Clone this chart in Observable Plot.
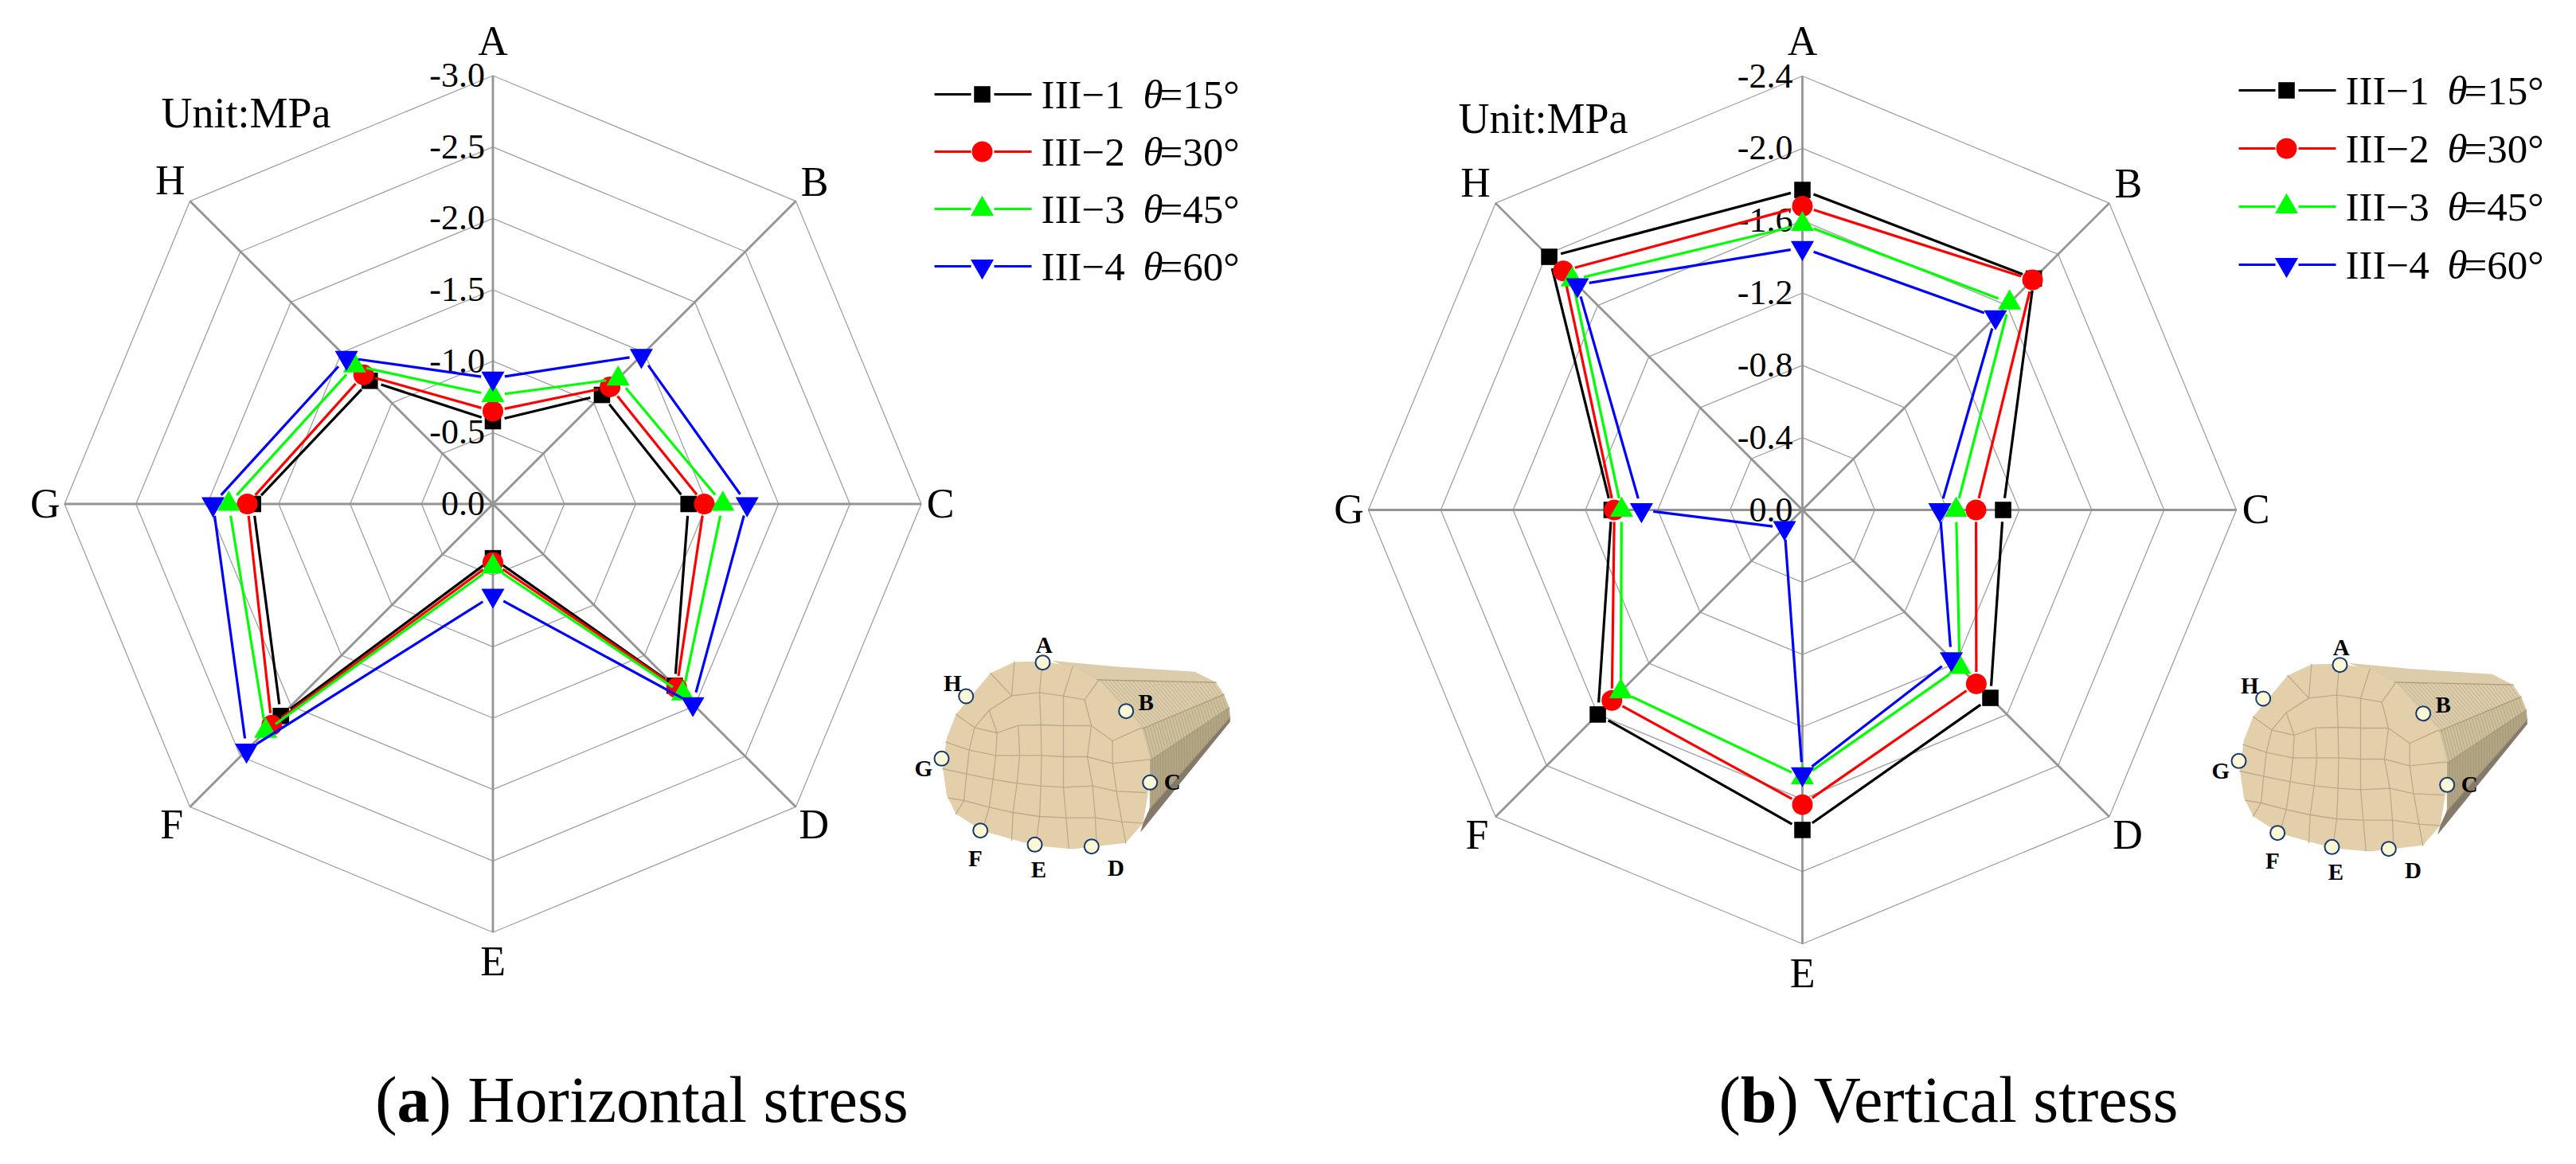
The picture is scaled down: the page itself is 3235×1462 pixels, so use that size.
<!DOCTYPE html>
<html><head><meta charset="utf-8">
<script src="https://cdn.jsdelivr.net/npm/d3@7"></script>
<script src="https://cdn.jsdelivr.net/npm/@observablehq/plot@0.6"></script>
<style>
html,body{margin:0;padding:0;background:#fff}
#fig{position:relative;width:3235px;height:1462px;overflow:hidden;font-family:"Liberation Serif",serif;color:#000}
#fig>*{position:absolute}
#fig svg{max-width:none;background:transparent;overflow:visible}
.cap{font-size:82px;line-height:1;white-space:nowrap;transform:translateX(-50%);top:1341px}
</style></head><body><div id="fig"></div>
<script>
// ---------- data ----------
const stations = ["A","B","C","D","E","F","G","H"];
const seriesNames = ["III\u22121","III\u22122","III\u22123","III\u22124"];
const thetaLabels = ["=15\u00b0","=30\u00b0","=45\u00b0","=60\u00b0"];
const colors = ["#000000","#ff0000","#00ff00","#0000ff"];

const horizontal15 = [0.58,1.08,1.37,1.80,0.38,2.10,1.68,1.22];
const horizontal30 = [0.65,1.16,1.48,1.82,0.41,2.19,1.72,1.28];
const horizontal45 = [0.76,1.24,1.61,1.88,0.44,2.25,1.85,1.37];
const horizontal60 = [0.88,1.47,1.78,1.98,0.64,2.44,1.96,1.45];

const vertical15 = [1.77,1.81,1.11,1.47,1.77,1.60,1.055,1.98];
const vertical30 = [1.68,1.80,0.96,1.36,1.63,1.49,1.04,1.87];
const vertical45 = [1.58,1.62,0.85,1.23,1.48,1.42,1.00,1.80];
const vertical60 = [1.45,1.51,0.76,1.165,1.46,0.14,0.89,1.76];

const horizontalTicks = [0,0.5,1,1.5,2,2.5,3];
const verticalTicks = [0,0.4,0.8,1.2,1.6,2,2.4];

// ---------- symbols ----------
const sq3 = Math.sqrt(3);
const triangleDown = {draw(c,size){const y=Math.sqrt(size/(sq3*3));c.moveTo(0,y*2);c.lineTo(-sq3*y,-y);c.lineTo(sq3*y,-y);c.closePath();}};
const symbols = ["square","circle","triangle",triangleDown];
const radii = [11.6,13,10.8,10.8];
const labelReach = [1.08,1.062,1.045,1.06,1.07,1.06,1.045,1.065];

const fig = document.getElementById("fig");
function place(node,left,top){node.style.left=left+"px";node.style.top=top+"px";fig.appendChild(node);}

// ---------- radar panel ----------
function radar({series,ticks,cx,cy,halfW,halfH,radius,left,tickDx,unitX,unitY}){
  const max = ticks[ticks.length-1], k = radius/max;
  const ang = i => i*Math.PI/4;
  const pol = (v,i) => ({px:v*Math.sin(ang(i)),py:v*Math.cos(ang(i))});
  const spokes = stations.map((s,i)=>({s,...pol(max,i)}));
  const rings = ticks.slice(1).flatMap(t=>d3.range(9).map(i=>({t,i,...pol(t,i%8)})));
  const labels = stations.map((s,i)=>({s,...pol(max*labelReach[i],i)}));
  const tickRows = ticks.map(t=>({t,label:(t===0?"":"-")+t.toFixed(1)}));
  const marks = [
    Plot.line(rings,{x:"px",y:"py",z:"t",stroke:"#a0a0a0",strokeWidth:1.3}),
    Plot.link(spokes,{x1:0,y1:0,x2:"px",y2:"py",stroke:"#949494",strokeWidth:2.8}),
    Plot.text(tickRows,{x:0,y:"t",text:"label",textAnchor:"end",dx:tickDx,fontSize:44,fill:"#000"}),
    Plot.text(labels,{x:"px",y:"py",text:"s",fontSize:52,fill:"#000"}),
    Plot.text(["Unit:MPa"],{x:()=>(unitX-cx)/k,y:()=>(cy-unitY)/k,text:d=>d,textAnchor:"start",fontSize:54,fill:"#000"})
  ];
  const gap = 15/k;
  series.forEach((vals,si)=>{
    const pts = vals.map((v,i)=>pol(v,i));
    const segs = pts.map((a,i)=>{
      const b = pts[(i+1)%pts.length];
      const dx=b.px-a.px, dy=b.py-a.py, L=Math.hypot(dx,dy);
      return {x1:a.px+dx/L*gap,y1:a.py+dy/L*gap,x2:b.px-dx/L*gap,y2:b.py-dy/L*gap};
    });
    marks.push(Plot.link(segs,{x1:"x1",y1:"y1",x2:"x2",y2:"y2",stroke:colors[si],strokeWidth:3.2}));
    marks.push(Plot.dot(pts,{x:"px",y:"py",symbol:symbols[si],r:radii[si],fill:colors[si],stroke:"none"}));
  });
  const p = Plot.plot({
    width:halfW*2,height:halfH*2,margin:0,
    style:{background:"transparent",fontFamily:"Liberation Serif, serif"},
    x:{domain:[-halfW/k,halfW/k],range:[0,halfW*2],axis:null},
    y:{domain:[-halfH/k,halfH/k],range:[halfH*2,0],axis:null},
    marks
  });
  place(p,left,cy-halfH);
}

// ---------- legend ----------
function legend(left,top,lastRow){
  const rows = seriesNames.map((n,i)=>({n,i,t:thetaLabels[i]}));
  const marks = [];
  rows.forEach(r=>{
    marks.push(Plot.link([r],{x1:0,x2:46,y1:"n",y2:"n",stroke:colors[r.i],strokeWidth:3}));
    marks.push(Plot.link([r],{x1:75,x2:122,y1:"n",y2:"n",stroke:colors[r.i],strokeWidth:3}));
    marks.push(Plot.dot([r],{x:60,y:"n",symbol:symbols[r.i],r:radii[r.i],fill:colors[r.i],stroke:"none"}));
  });
  marks.push(Plot.text(rows,{x:134,y:"n",text:"n",textAnchor:"start",fontSize:51,dy:1,fill:"#000"}));
  marks.push(Plot.text(rows,{x:262,y:"n",text:()=>"\u03b8",textAnchor:"start",fontSize:51,fontStyle:"italic",dy:1,fill:"#000"}));
  marks.push(Plot.text(rows,{x:283,y:"n",text:"t",textAnchor:"start",fontSize:51,dy:1,fill:"#000"}));
  const p = Plot.plot({
    width:400,height:290,margin:0,
    style:{background:"transparent",fontFamily:"Liberation Serif, serif"},
    x:{domain:[0,400],range:[0,400],axis:null},
    y:{type:"point",domain:seriesNames,range:[30,lastRow],padding:0,axis:null},
    marks
  });
  place(p,left,top);
}

// ---------- tunnel sketch (illustration, coordinates in a 1380x1050 sketch frame) ----------
const faceOutline=[[520,243],[625,240],[740,260],[830,310],[1000,490],[1030,600],[1030,700],[1005,850],[940,925],[740,948],[600,935],[400,880],[300,815],[265,745],[250,640],[265,530],[300,440],[430,285],[520,243]];
const bodyTop=[[660,238],[900,260],[1200,280],[1280,320],[1310,365],[1000,495],[830,310],[660,238]];
const bodyMid=[[1000,495],[1310,365],[1330,415],[1030,615],[1000,495]];
const bodyLow=[[1030,615],[1330,415],[1333,450],[1030,795],[1030,615]];
const bodyDark=[[1030,795],[1333,450],[1333,468],[995,885],[1005,850],[1030,795]];
const gridLines=[
[[430,285],[510,370]],[[520,243],[510,370],[615,358],[700,370],[785,385],[835,315]],
[[740,260],[705,370],[705,483]],[[625,240],[615,358],[620,480],[622,595],[620,710],[615,825],[600,935]],
[[300,440],[370,490],[455,510],[535,482],[620,480],[705,483],[810,483],[890,540],[1000,490]],
[[785,385],[810,483],[795,600],[815,710],[825,830],[830,940]],
[[510,370],[425,425],[455,510],[450,595],[440,685],[425,790],[400,880]],
[[535,482],[540,595],[530,700],[515,810],[510,915]],
[[705,483],[705,600],[705,715],[715,830],[725,945]],
[[890,540],[890,625],[905,730],[925,845],[940,925]],
[[425,425],[370,490],[350,575],[340,665],[330,765],[300,815]],
[[262,545],[350,575],[450,595],[540,595],[622,595],[705,600],[795,600],[890,625],[1030,610]],
[[250,645],[340,665],[440,685],[530,700],[620,710],[705,715],[815,710],[905,730],[1015,735]],
[[270,755],[330,765],[425,790],[515,810],[615,825],[715,830],[825,830],[925,845],[1005,850]]
];
const bodyLines=[[[830,310],[1280,320]],[[1000,495],[1310,365]],[[1030,615],[1330,415]],[[1030,795],[1333,450]]];
const pins=[{s:"A",x:627,y:245,lx:632,ly:180},{s:"B",x:941,y:428,lx:1016,ly:398},{s:"C",x:1031,y:697,lx:1115,ly:696},{s:"D",x:811,y:938,lx:903,ly:1022},{s:"E",x:597,y:931,lx:612,ly:1027},{s:"F",x:392,y:878,lx:373,ly:985},{s:"G",x:246,y:607,lx:178,ly:647},{s:"H",x:338,y:372,lx:287,ly:324}];
function tunnel(left,top){
  const poly=(c)=>({type:"Polygon",coordinates:[c]});
  const line=(c)=>({type:"LineString",coordinates:c});
  const t=d3.geoTransform({point(x,y){this.stream.point(x/3,y/3);}});
  const ribs=d3.range(1,30).map(n=>{const f=n/30;
    return line([[830+f*450,310+f*10],[1000+f*310,495-f*130],[1030+f*300,615-f*200],[1030+f*303,795-f*345]]);});
  const p=Plot.plot({
    width:460,height:350,margin:0,
    style:{background:"transparent",fontFamily:"Liberation Serif, serif"},
    projection:t,
    marks:[
      Plot.geo(poly(bodyTop),{fill:"#dccca9",stroke:"none"}),
      Plot.geo(poly(bodyMid),{fill:"#cfc09c",stroke:"none"}),
      Plot.geo(poly(bodyLow),{fill:"#b3a685",stroke:"none"}),
      Plot.geo(poly(bodyDark),{fill:"#85796a",stroke:"none"}),
      Plot.geo(ribs,{fill:"none",stroke:"#8f8468",strokeWidth:0.8,strokeOpacity:0.5}),
      Plot.geo(bodyLines.map(line),{fill:"none",stroke:"#a89a78",strokeWidth:1.2}),
      Plot.geo(poly(faceOutline),{fill:"#e3cfaa",stroke:"none"}),
      Plot.geo(gridLines.map(line),{fill:"none",stroke:"#b9ab8c",strokeWidth:1.3}),
      Plot.dot(pins,{x:"x",y:"y",r:9,fill:"#fbf8d6",stroke:"#15386e",strokeWidth:2}),
      Plot.text(pins,{x:"lx",y:"ly",text:"s",fontSize:29,fontWeight:"bold",fill:"#000"})
    ]
  });
  place(p,left,top);
}

// ---------- assemble ----------
radar({series:[horizontal15,horizontal30,horizontal45,horizontal60],ticks:horizontalTicks,cx:618.5,cy:632.5,halfW:618.5,halfH:632.5,radius:538,left:0,tickDx:-10,unitX:202,unitY:142});
radar({series:[vertical15,vertical30,vertical45,vertical60],ticks:verticalTicks,cx:2263,cy:640,halfW:600,halfH:640,radius:545,left:1663,tickDx:-12,unitX:1831,unitY:149});
legend(1173,87,247);
legend(2811,82,250);
tunnel(1100,750);
tunnel(2729,753);
const capA=document.createElement("div");capA.className="cap";capA.innerHTML="(<b>a</b>) Horizontal stress";capA.style.left="806px";fig.appendChild(capA);
const capB=document.createElement("div");capB.className="cap";capB.innerHTML="(<b>b</b>) Vertical stress";capB.style.left="2447px";fig.appendChild(capB);
</script></body></html>
